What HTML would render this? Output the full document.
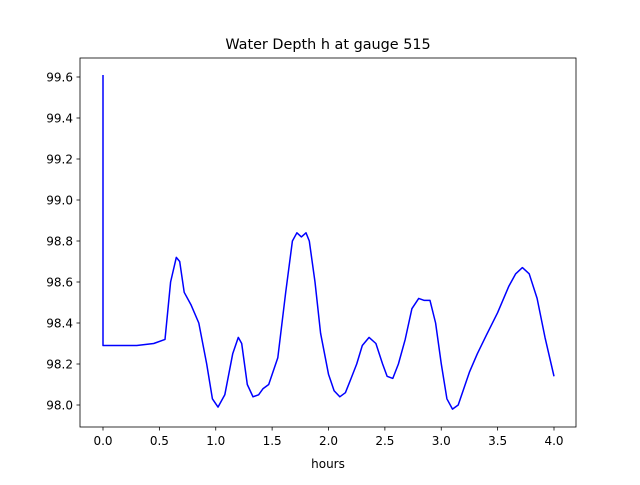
<!DOCTYPE html>
<html><head><meta charset="utf-8"><style>
body{margin:0;background:#fff;font-family:"Liberation Sans","DejaVu Sans",sans-serif}
svg text{font-family:"DejaVu Sans","Liberation Sans",sans-serif}
</style></head><body>
<svg id="chart" width="640" height="480" viewBox="0 0 640 480">
<rect width="640" height="480" fill="#fff"/>
<text x="328" y="49" text-anchor="middle" font-size="14.4">Water Depth h at gauge 515</text>
<g id="xticks"></g>
<g id="yticks"></g>
<polyline id="line" fill="none" stroke="#0000ff" stroke-width="1.5" stroke-linejoin="round"/>
<rect x="80" y="58" width="496" height="369" fill="none" stroke="#000" stroke-width="0.8"/>
<text x="328" y="468" text-anchor="middle" font-size="12">hours</text>
</svg>
<script>
const hours=[0,0,0.3,0.45,0.55,0.6,0.65,0.68,0.72,0.78,0.85,0.92,0.97,1.02,1.08,1.15,1.2,1.23,1.28,1.33,1.38,1.42,1.47,1.55,1.62,1.68,1.72,1.76,1.8,1.83,1.88,1.93,2.0,2.05,2.1,2.15,2.2,2.25,2.3,2.36,2.42,2.48,2.52,2.57,2.62,2.68,2.74,2.8,2.85,2.9,2.95,3.0,3.05,3.1,3.15,3.2,3.25,3.32,3.4,3.5,3.6,3.66,3.72,3.78,3.85,3.92,4.0];
const depth=[99.61,98.29,98.29,98.3,98.32,98.6,98.72,98.7,98.55,98.49,98.4,98.2,98.03,97.99,98.05,98.25,98.33,98.3,98.1,98.04,98.05,98.08,98.1,98.23,98.55,98.8,98.84,98.82,98.84,98.8,98.6,98.35,98.15,98.07,98.04,98.06,98.13,98.2,98.29,98.33,98.3,98.2,98.14,98.13,98.2,98.32,98.47,98.52,98.51,98.51,98.4,98.2,98.03,97.98,98.0,98.08,98.16,98.25,98.34,98.45,98.58,98.64,98.67,98.64,98.52,98.33,98.14];
const xTicks=["0.0","0.5","1.0","1.5","2.0","2.5","3.0","3.5","4.0"];
const yTicks=["98.0","98.2","98.4","98.6","98.8","99.0","99.2","99.4","99.6"];
const X=v=>103+v*112.75;
const Y=v=>405-(v-98)*205;
const NS="http://www.w3.org/2000/svg";
const line=document.getElementById('line');
line.setAttribute('points',hours.map((h,i)=>X(h).toFixed(1)+','+Y(depth[i]).toFixed(1)).join(' '));
const xg=document.getElementById('xticks'),yg=document.getElementById('yticks');
xTicks.forEach(t=>{const x=X(parseFloat(t));
const l=document.createElementNS(NS,'line');l.setAttribute('x1',x);l.setAttribute('x2',x);l.setAttribute('y1',427);l.setAttribute('y2',430.5);l.setAttribute('stroke','#000');l.setAttribute('stroke-width','0.8');


xg.appendChild(l);
const tx=document.createElementNS(NS,'text');tx.setAttribute('x',x);tx.setAttribute('y',445);tx.setAttribute('text-anchor','middle');tx.setAttribute('font-size','12');tx.textContent=t;


xg.appendChild(tx);});
yTicks.forEach(t=>{const y=Y(parseFloat(t));
const l=document.createElementNS(NS,'line');l.setAttribute('x1',76.5);l.setAttribute('x2',80);l.setAttribute('y1',y);l.setAttribute('y2',y);l.setAttribute('stroke','#000');l.setAttribute('stroke-width','0.8');


yg.appendChild(l);
const tx=document.createElementNS(NS,'text');tx.setAttribute('x',73);tx.setAttribute('y',y+4.5);tx.setAttribute('text-anchor','end');tx.setAttribute('font-size','12');tx.textContent=t;


yg.appendChild(tx);});
</script>
</body></html>
